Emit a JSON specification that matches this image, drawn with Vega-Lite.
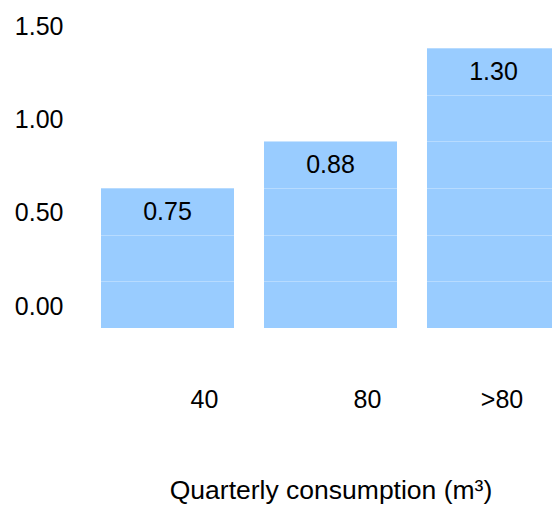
{
  "$schema": "https://vega.github.io/schema/vega-lite/v6.json",
  "width": 466,
  "height": 280,
  "autosize": {"type": "none"},
  "padding": {"left": 86, "top": 48, "right": 0, "bottom": 178},
  "background": "white",
  "config": {"view": {"stroke": null}, "font": "Liberation Sans"},
  "data": {
    "values": [
      {"consumption": "40", "drawn": 0.75, "label": "0.75"},
      {"consumption": "80", "drawn": 1.0, "label": "0.88"},
      {"consumption": ">80", "drawn": 1.5, "label": "1.30"}
    ]
  },
  "encoding": {
    "x": {
      "field": "consumption",
      "type": "nominal",
      "sort": null,
      "scale": {"range": [0, 489], "paddingInner": 0.184, "paddingOuter": 0.092},
      "axis": {
        "title": "Quarterly consumption (m³)",
        "labelAngle": 0,
        "domain": false,
        "ticks": false,
        "grid": false,
        "labelFontSize": 25,
        "labelColor": "black",
        "labelPadding": 71,
        "labelBaseline": "middle",
        "labelOffset": {"condition": {"test": "datum.value === '>80'", "value": 8.5}, "value": 37},
        "titleFontSize": 26.5,
        "titleFontWeight": "normal",
        "titleColor": "black",
        "titleX": 244.5,
        "titleY": 170,
        "titleAlign": "center",
        "titleBaseline": "alphabetic"
      }
    },
    "y": {
      "field": "drawn",
      "type": "quantitative",
      "scale": {"domain": [0, 1.5], "nice": false},
      "axis": {
        "title": null,
        "values": [0, 0.25, 0.5, 0.75, 1, 1.25, 1.5],
        "labelExpr": "(datum.value * 4) % 2 == 0 ? format(datum.value, '.2f') : ''",
        "domain": false,
        "ticks": false,
        "labelPadding": 23,
        "labelOffset": -22,
        "labelFontSize": 25,
        "labelColor": "black",
        "grid": true,
        "gridColor": "white",
        "gridOpacity": 0.3,
        "zindex": 1
      }
    }
  },
  "layer": [
    {"mark": {"type": "bar", "color": "#99ccff", "clip": true}},
    {
      "mark": {"type": "text", "dy": 24, "baseline": "middle", "fontSize": 25, "color": "black"},
      "encoding": {"text": {"field": "label"}}
    }
  ]
}
